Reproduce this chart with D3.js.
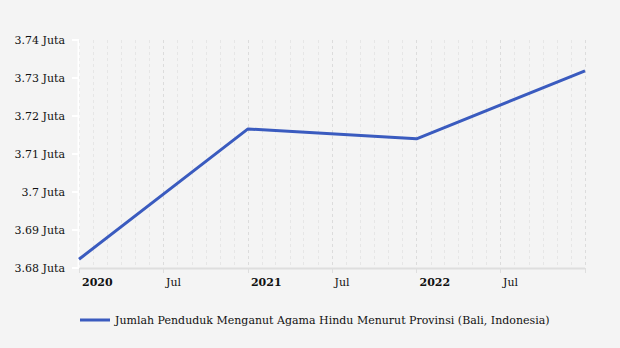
<!DOCTYPE html>
<html><head><meta charset="utf-8">
<script src="https://cdn.jsdelivr.net/npm/d3@7/dist/d3.min.js"></script>
<style>
body{margin:0;background:#f4f4f4;}
svg{display:block;font-family:"DejaVu Serif",serif;}
</style></head>
<body><svg id="c" width="620" height="348"></svg>
<script>
const dates = ["2020-01-01","2021-01-01","2022-01-01","2023-01-01"];
const values = [3.6823, 3.7166, 3.7140, 3.7319];
const yTicks = [3.68,3.69,3.70,3.71,3.72,3.73,3.74];
const seriesName = "Jumlah Penduduk Menganut Agama Hindu Menurut Provinsi (Bali, Indonesia)";

const parse = d3.timeParse("%Y-%m-%d");
const data = dates.map((d,i)=>({date:parse(d), v:values[i]}));
const svg = d3.select("#c");
svg.append("rect").attr("width",620).attr("height",348).attr("fill","#f4f4f4");
const L=79,R=585,T=40,B=268;
const x = d3.scaleTime().domain([parse("2020-01-01"),parse("2023-01-01")]).range([L,R]);
const y = d3.scaleLinear().domain([3.68,3.74]).range([B,T]);

// minor grid every month
const months = d3.timeMonth.range(parse("2020-01-01"), d3.timeDay.offset(parse("2023-01-01"),1));
svg.append("g").selectAll("line").data(months).join("line")
  .attr("x1",d=>Math.round(x(d))+0.5).attr("x2",d=>Math.round(x(d))+0.5)
  .attr("y1",T).attr("y2",B)
  .attr("stroke",d=>(d.getMonth()%6===0)?"#dcdcdc":"#e6e6e6")
  .attr("stroke-width",1)
  .attr("stroke-dasharray","3,3");

// x axis line
svg.append("line").attr("x1",L).attr("x2",R).attr("y1",B+0.5).attr("y2",B+0.5)
  .attr("stroke","#dedede").attr("stroke-width",2);
// end tick
const xTickDates = d3.timeMonth.every(6).range(parse("2020-01-01"), d3.timeDay.offset(parse("2023-01-01"),1));
svg.append("g").selectAll("line").data(xTickDates).join("line")
  .attr("x1",d=>Math.round(x(d))+0.5).attr("x2",d=>Math.round(x(d))+0.5)
  .attr("y1",B).attr("y2",B+5).attr("stroke","#dedede").attr("stroke-width",1);

// x labels
const labDates = xTickDates.filter(d=>d<parse("2023-01-01"));
svg.append("g").selectAll("text").data(labDates).join("text")
  .attr("x",d=>x(d)+3).attr("y",286)
  .attr("font-size",11).attr("fill","#111")
  .attr("font-weight",d=>d.getMonth()===0?"bold":"normal")
  .text(d=>d.getMonth()===0?d3.timeFormat("%Y")(d):"Jul");

// y axis white
svg.append("line").attr("x1",L-0.5).attr("x2",L-0.5).attr("y1",T).attr("y2",B)
  .attr("stroke","#fff").attr("stroke-width",2);
svg.append("g").selectAll("line").data(yTicks).join("line")
  .attr("x1",L-7).attr("x2",L).attr("y1",d=>y(d)).attr("y2",d=>y(d))
  .attr("stroke","#fff").attr("stroke-width",2);
svg.append("g").selectAll("text").data(yTicks).join("text")
  .attr("x",65).attr("y",d=>y(d)+4).attr("text-anchor","end")
  .attr("font-size",11).attr("fill","#111")
  .text(d=>d3.format("~g")(+d.toFixed(2))+" Juta");

// line
svg.append("path").datum(data)
  .attr("d",d3.line().x(d=>x(d.date)).y(d=>y(d.v)))
  .attr("fill","none").attr("stroke","#3a5bbf").attr("stroke-width",3)
  .attr("stroke-linejoin","round");

// legend
svg.append("line").attr("x1",80).attr("x2",110).attr("y1",320).attr("y2",320)
  .attr("stroke","#3a5bbf").attr("stroke-width",3);
svg.append("text").attr("x",115).attr("y",324).attr("font-size",11).attr("fill","#111")
  .text(seriesName);
</script></body></html>
